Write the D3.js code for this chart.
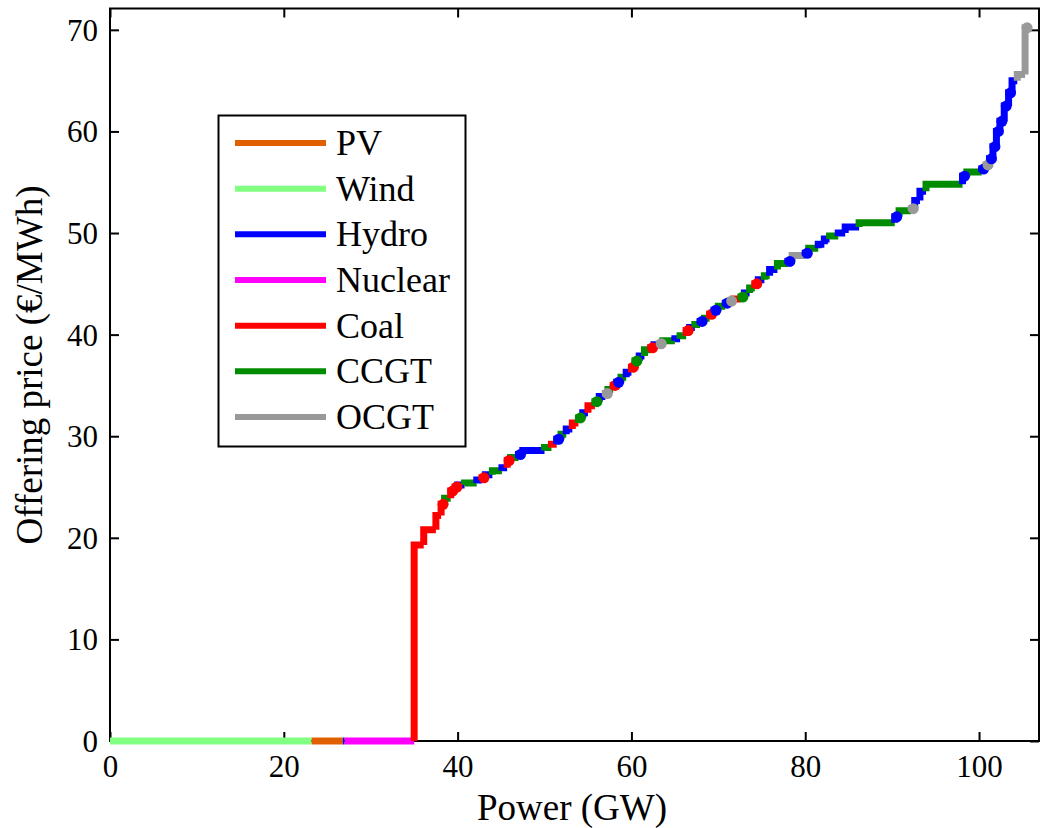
<!DOCTYPE html>
<html>
<head>
<meta charset="utf-8">
<script src="https://cdn.jsdelivr.net/npm/d3@7"></script>
<style>
  html, body { margin: 0; padding: 0; background: #fff; }
  svg { display: block; }
  text { font-family: "Liberation Serif", "Times New Roman", serif; fill: #000; }
</style>
</head>
<body>
<svg id="chart" width="1047" height="828"></svg>
<script>
// Technologies, in legend order, with their colours
const techNames  = ["PV", "Wind", "Hydro", "Nuclear", "Coal", "CCGT", "OCGT"];
const techColors = ["#e06000", "#80ff80", "#0000ff", "#ff00ff", "#ff0000", "#008c00", "#999999"];

// Merit-order blocks: technology, offered capacity (GW), offering price (€/MWh)
const blockTech = [
  "Wind", "PV", "Hydro", "Nuclear",
  "Coal", "Coal", "Coal", "Coal", "CCGT", "Coal", "Coal", "Hydro", "CCGT", "Hydro",
  "Coal", "Hydro", "CCGT", "Hydro", "Coal", "CCGT", "Hydro", "Hydro", "CCGT", "Coal",
  "Hydro", "CCGT", "Hydro", "Coal", "CCGT", "Hydro", "Coal", "CCGT", "Hydro", "OCGT",
  "CCGT", "Coal", "Hydro", "CCGT", "Hydro", "Coal", "CCGT", "Hydro", "CCGT", "Coal",
  "Hydro", "OCGT", "CCGT", "Hydro", "CCGT", "Coal", "Hydro", "CCGT", "Hydro", "CCGT",
  "Coal", "Hydro", "CCGT", "Hydro", "OCGT", "Coal", "CCGT", "Hydro", "CCGT", "Coal",
  "Hydro", "CCGT", "Hydro", "CCGT", "Hydro", "OCGT", "Hydro", "CCGT", "Hydro", "Hydro",
  "CCGT", "Hydro", "Hydro", "CCGT", "Hydro", "CCGT", "OCGT", "Hydro", "Hydro", "CCGT",
  "Hydro", "CCGT", "Hydro", "OCGT", "Hydro", "Hydro", "Hydro", "Hydro", "Hydro", "Hydro",
  "Hydro", "OCGT", "OCGT"
];
const blockCap = [
  23.2, 3.6, 0.2, 8.0,
  1.1, 1.4, 0.6, 0.4, 0.7, 0.5, 0.3, 0.8, 1.4, 0.6,
  0.4, 0.8, 1.1, 0.6, 0.4, 0.9, 0.5, 2.5, 0.8, 0.6,
  0.5, 0.6, 0.7, 0.7, 0.5, 0.6, 0.8, 0.5, 0.7, 0.3,
  0.6, 0.4, 0.5, 0.6, 0.6, 0.4, 0.5, 0.6, 0.7, 0.4,
  0.6, 0.4, 1.4, 0.6, 0.7, 0.4, 0.6, 0.6, 0.5, 0.6,
  0.5, 0.5, 0.8, 0.5, 0.5, 0.8, 0.4, 0.6, 0.6, 0.4,
  0.7, 0.6, 0.9, 1.2, 0.5, 1.5, 0.4, 1.1, 0.7, 0.6,
  1.0, 0.8, 1.6, 4.1, 0.5, 1.4, 0.4, 0.6, 0.7, 4.2,
  0.5, 1.7, 0.5, 0.4, 0.4, 0.4, 0.4, 0.5, 0.5, 0.4,
  0.6, 0.9, 0.3
];
const blockPrice = [
  0, 0, 0, 0,
  19.3, 20.8, 22.2, 23.3, 23.9, 24.6, 25.0, 25.2, 25.4, 25.7,
  25.9, 26.2, 26.6, 26.9, 27.6, 27.9, 28.2, 28.6, 28.9, 29.2,
  29.7, 30.2, 30.7, 31.3, 31.8, 32.3, 33.0, 33.4, 33.9, 34.2,
  34.6, 35.0, 35.3, 35.8, 36.3, 36.8, 37.4, 37.9, 38.5, 38.7,
  39.0, 39.1, 39.4, 39.6, 39.9, 40.4, 40.7, 41.0, 41.3, 41.6,
  42.0, 42.4, 42.8, 43.1, 43.3, 43.5, 43.7, 44.1, 44.6, 45.0,
  45.4, 45.8, 46.4, 47.0, 47.2, 47.8, 48.0, 48.5, 48.9, 49.4,
  49.7, 50.0, 50.6, 51.0, 51.6, 52.2, 52.4, 53.2, 54.1, 54.8,
  55.6, 56.0, 56.3, 56.7, 57.3, 58.5, 60.0, 61.0, 62.5, 63.8,
  65.0, 65.6, 70.2
];

// Axis ticks
const xTicks = [0, 20, 40, 60, 80, 100];
const yTicks = [0, 10, 20, 30, 40, 50, 60, 70];
const xMax = 106.9, yMax = 72.1;

const svg = d3.select("#chart");
const L = 110, R = 1039, T = 8.5, B = 741;

const x = d3.scaleLinear().domain([0, xMax]).range([L, R]);
const y = d3.scaleLinear().domain([0, yMax]).range([B, T]);
const color = d3.scaleOrdinal().domain(techNames).range(techColors);

// Build the step segments from cumulative capacity
const ends = d3.cumsum(blockCap);
const blocks = blockTech.map((t, i) => ({
  tech: t,
  x0: i === 0 ? 0 : ends[i - 1],
  x1: ends[i],
  p: blockPrice[i],
  prev: i === 0 ? blockPrice[0] : blockPrice[i - 1],
  cap: blockCap[i]
}));

// Axes box with inward ticks on all four sides
const axisG = svg.append("g");
const tickLen = 9;
const axisBottom = d3.axisBottom(x).tickValues(xTicks).tickSizeInner(-tickLen).tickSizeOuter(0).tickPadding(14);
const axisLeft = d3.axisLeft(y).tickValues(yTicks).tickSizeInner(-tickLen).tickSizeOuter(0).tickPadding(12);
const axisTop = d3.axisTop(x).tickValues(xTicks).tickSizeInner(-tickLen).tickSizeOuter(0).tickFormat("");
const axisRight = d3.axisRight(y).tickValues(yTicks).tickSizeInner(-tickLen).tickSizeOuter(0).tickFormat("");

function styleAxis(g) {
  g.select(".domain").remove();
  g.selectAll(".tick line").attr("stroke", "#000").attr("stroke-width", 2);
  g.selectAll(".tick text")
    .style("font-family", '"Liberation Serif", "Times New Roman", serif')
    .style("font-size", "31px").attr("fill", "#000");
}
axisG.append("g").attr("transform", `translate(0,${B})`).call(axisBottom).call(styleAxis)
  .selectAll(".tick text").attr("dy", "0.72em");
axisG.append("g").attr("transform", `translate(${L},0)`).call(axisLeft).call(styleAxis)
  .selectAll(".tick text").attr("dy", "0.34em");
axisG.append("g").attr("transform", `translate(0,${T})`).call(axisTop).call(styleAxis);
axisG.append("g").attr("transform", `translate(${R},0)`).call(axisRight).call(styleAxis);

axisG.append("rect")
  .attr("x", L).attr("y", T).attr("width", R - L).attr("height", B - T)
  .attr("fill", "none").attr("stroke", "#000").attr("stroke-width", 2);

// Offer curve: each block draws its rise from the previous price, then its width
const curve = svg.append("g");
curve.selectAll("path.block")
  .data(blocks)
  .join("path")
  .attr("class", "block")
  .attr("d", d => `M${x(d.x0)},${y(d.prev)}L${x(d.x0)},${y(d.p)}L${x(d.x1)},${y(d.p)}`)
  .attr("fill", "none")
  .attr("stroke", d => color(d.tech))
  .attr("stroke-width", 7)
  .attr("stroke-linejoin", "miter")
  .attr("stroke-linecap", "butt");

// Small units show up as round blobs at the step corners
curve.selectAll("circle.unit")
  .data(blocks.filter(d => d.p > 0 && d.cap <= 0.5))
  .join("circle")
  .attr("class", "unit")
  .attr("cx", d => x(d.x0) + 2)
  .attr("cy", d => y(d.p))
  .attr("r", 5.5)
  .attr("fill", d => color(d.tech));

// Axis labels
svg.append("text")
  .attr("x", 572).attr("y", 820)
  .attr("text-anchor", "middle")
  .style("font-size", "37px")
  .text("Power (GW)");

svg.append("text")
  .attr("transform", `translate(42,365) rotate(-90)`)
  .attr("text-anchor", "middle")
  .style("font-size", "37px")
  .text("Offering price (€/MWh)");

// Legend
const lg = svg.append("g");
lg.append("rect")
  .attr("x", 218.5).attr("y", 115.5).attr("width", 247).attr("height", 331)
  .attr("fill", "#fff").attr("stroke", "#000").attr("stroke-width", 2);
const rowY = d3.scalePoint().domain(techNames).range([143, 417]);
techNames.forEach(t => {
  lg.append("line")
    .attr("x1", 235).attr("x2", 326)
    .attr("y1", rowY(t)).attr("y2", rowY(t))
    .attr("stroke", color(t)).attr("stroke-width", 6);
  lg.append("text")
    .attr("x", 336).attr("y", rowY(t) + 12)
    .style("font-size", "36px")
    .text(t);
});
</script>
</body>
</html>
